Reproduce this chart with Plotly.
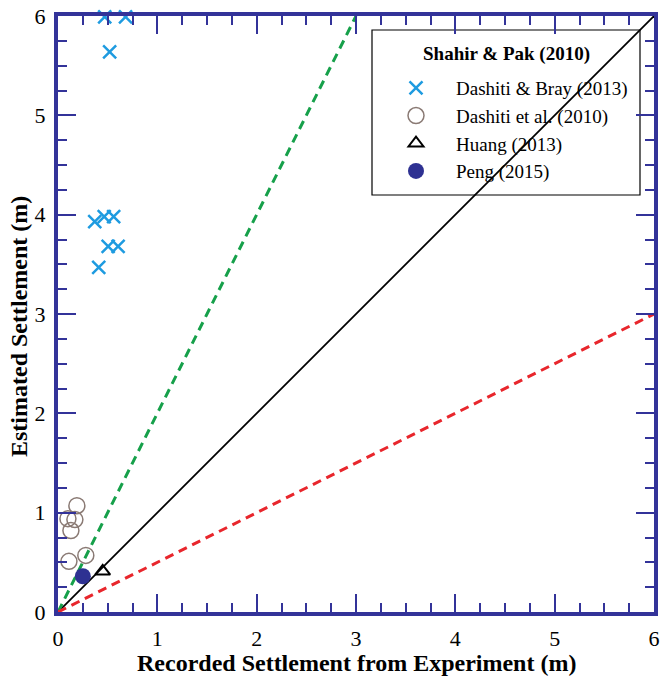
import plotly.graph_objects as go

# Data
bray_x = [0.47, 0.68, 0.52, 0.37, 0.465, 0.56, 0.505, 0.605, 0.41]
bray_y = [5.99, 5.99, 5.64, 3.93, 3.98, 3.98, 3.68, 3.68, 3.47]
dash_x = [0.19, 0.10, 0.17, 0.13, 0.11, 0.28]
dash_y = [1.07, 0.94, 0.93, 0.82, 0.51, 0.57]
huang_x = [0.45]
huang_y = [0.41]
peng_x = [0.25]
peng_y = [0.36]
ref_x = [0, 6]
ref_y = [0, 6]
upper_x = [0, 3]
upper_y = [0, 6]
lower_x = [0, 6]
lower_y = [0, 3]
ticks = [0, 1, 2, 3, 4, 5, 6]

font_family = "Liberation Serif"
axis_color = "#333399"

fig = go.Figure()
fig.add_trace(go.Scatter(x=ref_x, y=ref_y, mode="lines", line=dict(color="black", width=1.8), showlegend=False))
fig.add_trace(go.Scatter(x=upper_x, y=upper_y, mode="lines", line=dict(color="#16A04A", width=3, dash="9px,6px"), showlegend=False))
fig.add_trace(go.Scatter(x=lower_x, y=lower_y, mode="lines", line=dict(color="#E8262C", width=3, dash="9px,6px"), showlegend=False))

fig.add_trace(go.Scatter(x=bray_x, y=bray_y, mode="markers", name="Dashiti & Bray (2013)",
                         marker=dict(symbol="x-thin", size=13, line=dict(color="#1E9BE0", width=2.5), color="#1E9BE0"),
                         cliponaxis=False))
fig.add_trace(go.Scatter(x=dash_x, y=dash_y, mode="markers", name="Dashiti et al. (2010)",
                         marker=dict(symbol="circle-open", size=16, color="#8A7A74", line=dict(width=1.5))))
fig.add_trace(go.Scatter(x=huang_x, y=huang_y, mode="markers", name="Huang (2013)",
                         marker=dict(symbol="triangle-up-open", size=13, color="black", line=dict(width=2))))
fig.add_trace(go.Scatter(x=peng_x, y=peng_y, mode="markers", name="Peng (2015)",
                         marker=dict(symbol="circle", size=16, color="#2E3192")))

axis_common = dict(
    range=[0, 6], tickvals=ticks, ticktext=[str(t) for t in ticks],
    showline=True, linecolor=axis_color, linewidth=4, mirror="ticks",
    ticks="inside", ticklen=18, tickwidth=2, tickcolor=axis_color,
    minor=dict(dtick=0.25, ticks="inside", ticklen=9, tickwidth=2, tickcolor=axis_color, showgrid=False),
    showgrid=False, zeroline=False, automargin=False,
    tickfont=dict(family=font_family, size=22, color="black"),
)

L, R, T, B = 58, 7, 16, 71
W, H = 661, 683
pw, ph = W - L - R, H - T - B

def px_x(p):
    return (p - L) / pw

def px_y(p):
    return (H - B - p) / ph

fig.update_layout(
    width=W, height=H,
    margin=dict(l=L, r=R, t=T, b=B),
    paper_bgcolor="white", plot_bgcolor="white",
    font=dict(family=font_family, size=19, color="black"),
    xaxis=dict(**axis_common, ticklabelstandoff=4),
    yaxis=dict(**axis_common, ticklabelstandoff=4),
    legend=dict(x=px_x(376), y=px_y(69), xanchor="left", yanchor="top",
                bgcolor="rgba(0,0,0,0)", borderwidth=0,
                font=dict(family=font_family, size=19), tracegroupgap=3, itemwidth=70),
    shapes=[dict(type="rect", xref="paper", yref="paper",
                 x0=px_x(372), x1=px_x(640), y0=px_y(195), y1=px_y(30),
                 line=dict(color="black", width=1.2), fillcolor="white", layer="below")],
    annotations=[
        dict(text="<b>Shahir & Pak (2010)</b>", xref="paper", yref="paper",
             x=px_x(506), y=px_y(54), xanchor="center", yanchor="middle", showarrow=False,
             font=dict(family=font_family, size=19)),
        dict(text="<b>Recorded Settlement from Experiment (m)</b>", xref="paper", yref="paper",
             x=px_x(356), y=px_y(663), xanchor="center", yanchor="middle", showarrow=False,
             font=dict(family=font_family, size=24)),
        dict(text="<b>Estimated Settlement (m)</b>", xref="paper", yref="paper",
             x=px_x(19), y=px_y(327), xanchor="center", yanchor="middle", showarrow=False,
             textangle=-90, font=dict(family=font_family, size=24)),
    ],
)

fig.write_html("out.html")
